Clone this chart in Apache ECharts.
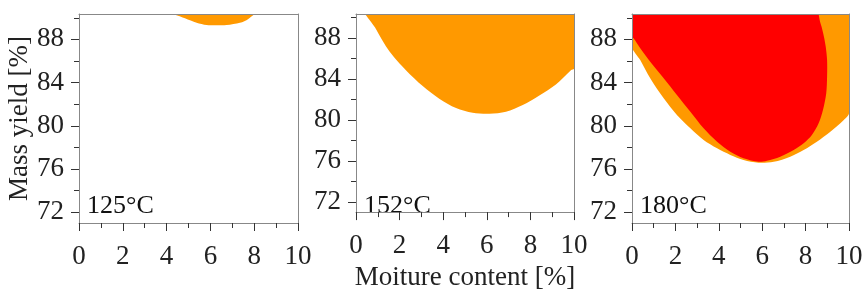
<!DOCTYPE html>
<html>
<head>
<meta charset="utf-8">
<script src="https://cdn.jsdelivr.net/npm/echarts@6/dist/echarts.min.js"></script>
<style>
html, body { margin: 0; padding: 0; background: #fff; }
#main { width: 867px; height: 296px; }
</style>
</head>
<body>
<div id="main"></div>
<script>
// panel labels
var temps = ['125°C', '152°C', '180°C'];
var yLabelValues = [72, 76, 80, 84, 88];
var yMinorValues = [74, 78, 82, 86, 90];
var yMin = 71, yMax = 90.35;

// boundaries of the regions (moisture %, mass yield %), closed along the top
var orange125 = [[4.38, 90.35], [4.84, 89.95], [5.37, 89.54], [5.83, 89.33], [6.3, 89.3], [6.74, 89.33], [7.35, 89.54], [7.73, 89.89], [7.96, 90.35]];
var orange152 = [[0.54, 90.35], [0.92, 88.87], [1.53, 86.71], [2.29, 84.86], [3.06, 83.31], [3.82, 82.08], [4.59, 81.16], [5.35, 80.7], [6.12, 80.6], [6.88, 80.8], [7.65, 81.46], [8.41, 82.39], [9.17, 83.47], [9.86, 84.86], [10, 85.0], [10, 90.35]];
var orange180 = [[0, 90.35], [0, 87.32], [0.38, 86.09], [0.84, 84.4], [1.46, 82.54], [2.07, 81.0], [2.69, 79.77], [3.3, 78.68], [3.92, 77.91], [4.53, 77.3], [5.14, 76.83], [5.83, 76.58], [6.53, 76.67], [7.29, 77.14], [7.91, 77.76], [8.52, 78.53], [9.14, 79.45], [9.76, 80.54], [10, 81.16], [10, 90.35]];
var red180 = [[0, 90.35], [8.52, 90.35], [8.7, 89.4], [8.84, 88.3], [8.93, 87.3], [8.99, 86.09], [8.99, 84.55], [8.95, 83.0], [8.8, 81.46], [8.6, 80.23], [8.29, 79.15], [7.91, 78.38], [7.45, 77.76], [6.83, 77.14], [6.22, 76.77], [5.83, 76.67], [5.14, 76.99], [4.53, 77.6], [3.92, 78.53], [3.3, 79.77], [2.69, 81.3], [2.07, 82.85], [1.46, 84.4], [0.84, 85.93], [0.38, 87.17], [0.07, 88.1], [0, 88.15]];

var ORANGE = '#ff9900', RED = '#ff0000';
var FONT = 'Liberation Serif';
var lineCol = '#888', tickCol = '#333';

var grids = [
    {left: 79, top: 14, width: 219, height: 209},
    {left: 356, top: 14, width: 218, height: 209},
    {left: 632, top: 14, width: 217, height: 209}
];

var xAxes = [], yAxes = [], titles = [];
for (var g = 0; g < 3; g++) {
    xAxes.push({
        gridIndex: g, type: 'value', min: 0, max: 10, interval: 2, z: 10,
        position: 'bottom',
        axisLine: {show: true, lineStyle: {color: lineCol, width: 1}},
        axisTick: {show: true, length: 8, lineStyle: {color: tickCol}},
        minorTick: {show: true, splitNumber: 2, length: 5, lineStyle: {color: tickCol}},
        splitLine: {show: false},
        axisLabel: {margin: 20, fontFamily: FONT, fontSize: 27, color: '#222'},
        name: g == 1 ? 'Moiture content [%]' : '',
        nameLocation: 'middle', nameGap: 49,
        nameTextStyle: {fontFamily: FONT, fontSize: 27, color: '#222'}
    });
    xAxes.push({   // top border
        gridIndex: g, type: 'value', min: 0, max: 10, position: 'top', z: 10,
        axisLine: {show: true, lineStyle: {color: lineCol, width: 1}},
        axisTick: {show: false}, axisLabel: {show: false}, splitLine: {show: false}
    });
    yAxes.push({
        gridIndex: g, type: 'value', min: yMin, max: yMax, position: 'left', z: 10,
        axisLine: {show: true, lineStyle: {color: lineCol, width: 1}},
        axisTick: {show: true, length: 8, customValues: yLabelValues, lineStyle: {color: tickCol}},
        axisLabel: {margin: 15, customValues: yLabelValues, fontFamily: FONT, fontSize: 27, color: '#222'},
        splitLine: {show: false},
        name: g == 0 ? 'Mass yield [%]' : '',
        nameLocation: 'middle', nameGap: 40,
        nameTextStyle: {fontFamily: FONT, fontSize: 27, color: '#222'}
    });
    yAxes.push({   // minor ticks
        gridIndex: g, type: 'value', min: yMin, max: yMax, position: 'left', z: 10,
        axisLine: {show: false},
        axisTick: {show: true, length: 5, customValues: yMinorValues, lineStyle: {color: tickCol}},
        axisLabel: {show: false}, splitLine: {show: false}
    });
    yAxes.push({   // right border
        gridIndex: g, type: 'value', min: yMin, max: yMax, position: 'right', z: 10,
        axisLine: {show: true, lineStyle: {color: lineCol, width: 1}},
        axisTick: {show: false}, axisLabel: {show: false}, splitLine: {show: false}
    });
    titles.push({
        text: temps[g], left: grids[g].left + 8, top: 193, padding: 0,
        textStyle: {fontFamily: FONT, fontSize: 26, fontWeight: 'normal', color: '#111'}
    });
}

function region(g, pts, color) {
    return {
        type: 'custom', xAxisIndex: g * 2, yAxisIndex: g * 3,
        data: pts, encode: {x: 0, y: 1}, silent: true, animation: false, z: 2,
        renderItem: function (params, api) {
            if (params.dataIndex !== 0) return null;
            var cs = params.coordSys;
            var n = pts.length;
            var c = pts.map(function (d) { return api.coord(d); });
            var p = [];
            for (var i = 0; i < n; i++) {
                var q = c[i].slice();
                if (pts[i][1] >= yMax) {
                    // stretch top-edge vertices outward along the curve, the clip cuts them back
                    var prev = (i + n - 1) % n, next = (i + 1) % n;
                    var nb = pts[prev][1] < yMax ? prev : (pts[next][1] < yMax ? next : -1);
                    if (nb >= 0) {
                        var dx = c[i][0] - c[nb][0], dy = c[i][1] - c[nb][1];
                        var len = Math.sqrt(dx * dx + dy * dy) || 1;
                        q[0] += dx / len * 20;
                        q[1] += dy / len * 20;
                    } else {
                        q[1] -= 20;
                    }
                }
                p.push(q);
            }
            return {
                type: 'polygon',
                shape: {points: p, smooth: 0.3},
                style: {fill: color},
                clipPath: {type: 'rect', shape: {x: cs.x, y: cs.y, width: cs.width, height: cs.height}}
            };
        }
    };
}

var myChart = echarts.init(document.getElementById('main'));
myChart.setOption({
    animation: false,
    title: titles,
    grid: grids,
    xAxis: xAxes,
    yAxis: yAxes,
    series: [
        region(0, orange125, ORANGE),
        region(1, orange152, ORANGE),
        region(2, orange180, ORANGE),
        region(2, red180, RED)
    ]
});
</script>
</body>
</html>
